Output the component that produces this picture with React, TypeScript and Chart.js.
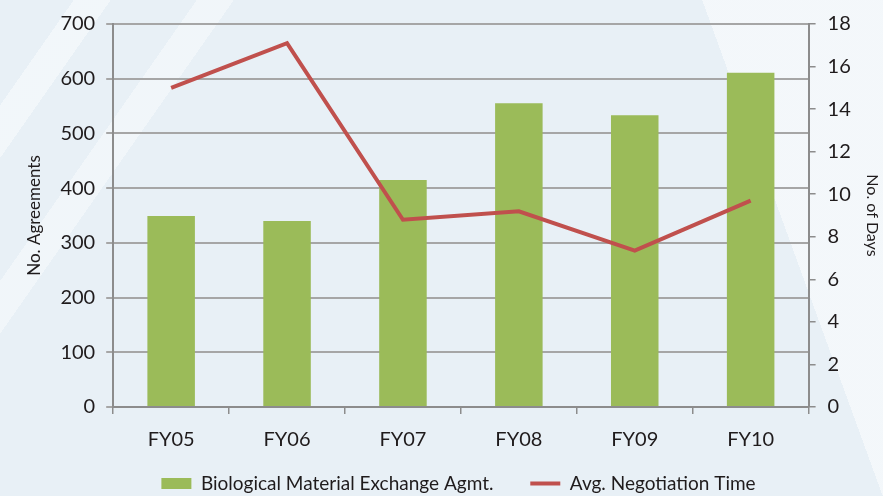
import React, { useEffect, useRef } from "react";
import { Chart, registerables } from "chart.js";

Chart.register(...registerables);

const categories = ["FY05", "FY06", "FY07", "FY08", "FY09", "FY10"];
const agreements = [349, 340, 415, 555, 533, 611];
const negotiationDays = [15.0, 17.1, 8.8, 9.2, 7.35, 9.7];
const leftTicks = [0, 100, 200, 300, 400, 500, 600, 700];
const rightTicks = [0, 2, 4, 6, 8, 10, 12, 14, 16, 18];

const FONT = "Lato, 'Open Sans', sans-serif";
const TEXT = "#1f1b1c";

export default function App() {
  const ref = useRef<HTMLCanvasElement | null>(null);
  useEffect(() => {
    if (!ref.current) return;
    const chart = new Chart(ref.current, {
      data: {
        labels: categories,
        datasets: [
          {
            type: "line",
            label: "Avg. Negotiation Time",
            data: negotiationDays,
            yAxisID: "y1",
            borderColor: "#c0504d",
            backgroundColor: "#c0504d",
            borderWidth: 4,
            pointRadius: 0,
            pointStyle: "line",
            tension: 0,
            order: 0,
          } as any,
          {
            type: "bar",
            label: "Biological Material Exchange Agmt.",
            data: agreements,
            yAxisID: "y",
            backgroundColor: "#9bbb59",
            borderWidth: 0,
            categoryPercentage: 1,
            barPercentage: 0.41,
            pointStyle: "rect",
            order: 1,
          } as any,
        ],
      },
      options: {
        animation: false,
        responsive: false,
        maintainAspectRatio: false,
        layout: { padding: { top: 18, right: -14, left: 20, bottom: -7 } },
        plugins: {
          tooltip: { enabled: false },
          legend: {
            position: "bottom",
            reverse: true,
            labels: {
              usePointStyle: true,
              pointStyleWidth: 30,
              boxHeight: 11,
              padding: 8,
              color: TEXT,
              font: { family: FONT, size: 19 },
              generateLabels: (c: any) => {
                const items = Chart.defaults.plugins.legend.labels.generateLabels(c);
                return items.map((it: any) =>
                  it.datasetIndex === 1 ? { ...it, text: it.text + "\u2003   " } : it
                );
              },
            },
          },
        },
        scales: {
          x: {
            offset: true,
            grid: {
              offset: true,
              drawOnChartArea: false,
              drawTicks: true,
              tickLength: 7,
              color: "#8c8c8c",
              lineWidth: 1.5,
            },
            border: { color: "#8c8c8c", width: 2 },
            ticks: { color: TEXT, font: { family: FONT, size: 20 }, padding: 14 },
          },
          y: {
            position: "left",
            min: 0,
            max: 700,
            afterBuildTicks: (axis: any) => {
              axis.ticks = leftTicks.map((v) => ({ value: v }));
            },
            grid: { color: "#a6a6a6", lineWidth: 2, tickLength: 7 },
            border: { color: "#8c8c8c", width: 2 },
            ticks: { color: TEXT, font: { family: FONT, size: 20 }, padding: 11 },
            title: {
              display: true,
              text: "No. Agreements",
              color: TEXT,
              font: { family: FONT, size: 17 },
              padding: { top: 4, bottom: 5 },
            },
          },
          y1: {
            position: "right",
            min: 0,
            max: 18,
            afterBuildTicks: (axis: any) => {
              axis.ticks = rightTicks.map((v) => ({ value: v }));
            },
            grid: { drawOnChartArea: false, color: "#8c8c8c", lineWidth: 1.5, tickLength: 7 },
            border: { color: "#8c8c8c", width: 2 },
            ticks: { color: TEXT, font: { family: FONT, size: 20 }, padding: 12 },
            title: {
              display: true,
              text: "No. of Days",
              color: TEXT,
              font: { family: FONT, size: 16 },
              padding: { top: 15, bottom: 0 },
            },
          },
        },
      },
    });
    return () => chart.destroy();
  }, []);

  return (
    <div
      style={{
        position: "fixed",
        left: 0,
        top: 0,
        width: 883,
        height: 496,
        background:
          "linear-gradient(70deg, transparent 0 83%, rgba(255,255,255,0.5) 83% 100%), linear-gradient(125deg, transparent 0 6%, rgba(255,255,255,0.45) 6% 9%, transparent 9% 16%, rgba(255,255,255,0.4) 16% 19%, transparent 19% 100%), #e8f0f6",
      }}
    >
      <canvas ref={ref} width={883} height={496} style={{ display: "block" }} />
    </div>
  );
}
